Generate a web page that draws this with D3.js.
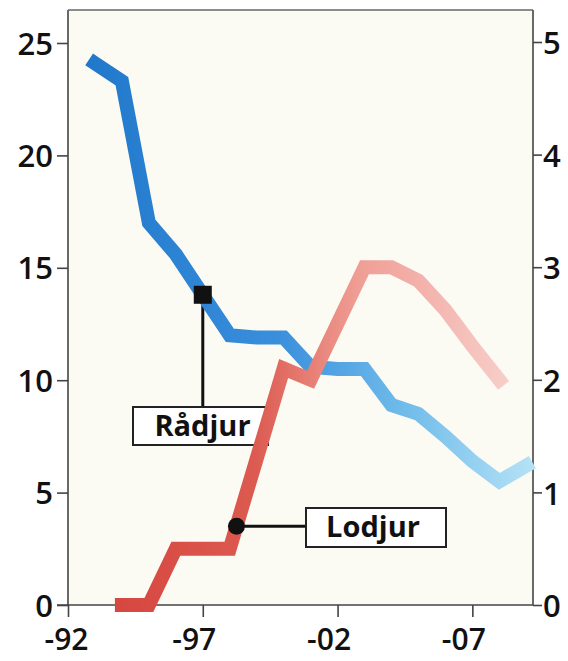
<!DOCTYPE html>
<html><head><meta charset="utf-8">
<script src="https://cdn.jsdelivr.net/npm/d3@7/dist/d3.min.js"></script>
<style>body{margin:0;background:#fff}svg{display:block}</style>
</head><body>
<script>
// ---- data ----
const radjurYears = [1993,1994,1995,1996,1997,1998,1999,2000,2001,2002,2003,2004,2005,2006,2007,2008,2009];
const radjurValues = [24.1,23.3,17.0,15.6,13.8,12.0,11.9,11.9,10.6,10.5,10.5,8.9,8.5,7.5,6.4,5.5,6.2];
const lodjurYears = [1994,1995,1996,1997,1998,1999,2000,2001,2002,2003,2004,2005,2006,2007,2008];
const lodjurValues = [0,0,0.5,0.5,0.5,1.3,2.1,2.0,2.5,3.0,3.0,2.88,2.62,2.3,2.0];
const leftTicks = [0,5,10,15,20,25];
const rightTicks = [0,1,2,3,4,5];
const xTicks = [1992,1997,2002,2007];
const xTickLabels = ["-92","-97","-02","-07"];
const seriesNames = ["Rådjur","Lodjur"];
const radjurMarker = {year:1997, value:13.8};
const lodjurMarker = {year:1998.25, value:0.7};

// ---- layout ----
const W = 568, H = 661;
const L = 68, R = 533, T = 10, B = 605;
const svg = d3.select("body").append("svg").attr("width", W).attr("height", H);

const x = d3.scaleLinear().domain([1992, 2009.25]).range([L, R]);
const yL = d3.scaleLinear().domain([0, 25]).range([B, 43]);
const yR = d3.scaleLinear().domain([0, 5]).range([B, 42]);

const defs = svg.append("defs");
const gb = defs.append("linearGradient").attr("id","gb").attr("gradientUnits","userSpaceOnUse")
  .attr("x1",L).attr("x2",R).attr("y1",0).attr("y2",0);
gb.append("stop").attr("offset","0%").attr("stop-color","#1e76c9");
gb.append("stop").attr("offset","45%").attr("stop-color","#3a8fdc");
gb.append("stop").attr("offset","72%").attr("stop-color","#6fbbea");
gb.append("stop").attr("offset","100%").attr("stop-color","#b5e2f6");
const gr = defs.append("linearGradient").attr("id","gr").attr("gradientUnits","userSpaceOnUse")
  .attr("x1",L).attr("x2",R).attr("y1",0).attr("y2",0);
gr.append("stop").attr("offset","0%").attr("stop-color","#d4403a");
gr.append("stop").attr("offset","40%").attr("stop-color","#dc5a50");
gr.append("stop").attr("offset","62%").attr("stop-color","#ef9d94");
gr.append("stop").attr("offset","100%").attr("stop-color","#f9d6d2");

// plot background
svg.append("rect").attr("x",L).attr("y",T).attr("width",R-L).attr("height",B-T).attr("fill","#fbfbf4");

const font = "'Open Sans', sans-serif";

// axes
const axL = svg.append("g").attr("transform",`translate(${L},0)`)
  .call(d3.axisLeft(yL).tickValues(leftTicks).tickSize(11).tickPadding(4).tickFormat(d3.format("d")));
const axR = svg.append("g").attr("transform",`translate(${R},0)`)
  .call(d3.axisRight(yR).tickValues(rightTicks).tickSize(9).tickPadding(1).tickFormat(d3.format("d")));
const axB = svg.append("g").attr("transform",`translate(0,${B})`)
  .call(d3.axisBottom(x).tickValues(xTicks).tickSize(12).tickPadding(11).tickFormat((d,i)=>xTickLabels[i]));
[axL, axR, axB].forEach(a=>{
  a.select(".domain").remove();
  a.selectAll(".tick line").attr("stroke","#444").attr("stroke-width",1.6);
  a.selectAll("text").attr("font-family",font).attr("font-weight",600).attr("font-size",31).attr("fill","#111");
});
axL.selectAll("text").attr("dy","0.36em");
axR.selectAll("text").attr("dy","0.38em");
axB.selectAll("text").attr("font-size",30).attr("dx",(d,i)=> i===0 ? -2 : -9).attr("dy","0.72em");

// frame lines
const frame = svg.append("g").attr("stroke","#444").attr("stroke-width",1.6).attr("fill","none");
frame.append("line").attr("x1",L).attr("x2",L).attr("y1",T).attr("y2",B);
frame.append("line").attr("x1",R).attr("x2",R).attr("y1",T).attr("y2",B);
frame.append("line").attr("x1",L).attr("x2",R).attr("y1",T).attr("y2",T).attr("stroke","#666");
frame.append("line").attr("x1",L-11).attr("x2",R).attr("y1",B).attr("y2",B);

// Rådjur label box (behind lines)
const rm = {x:x(radjurMarker.year), y:yL(radjurMarker.value)};
const lm = {x:x(lodjurMarker.year), y:yR(lodjurMarker.value)};
const rBox = {x:133, y:407, w:135, h:38};
const lBox = {x:306, y:508, w:140, h:39};

svg.append("line").attr("x1",rm.x).attr("x2",rm.x).attr("y1",rm.y).attr("y2",rBox.y)
  .attr("stroke","#111").attr("stroke-width",3);
svg.append("rect").attr("x",rBox.x).attr("y",rBox.y).attr("width",rBox.w).attr("height",rBox.h)
  .attr("fill","#fff").attr("stroke","#222").attr("stroke-width",2);
svg.append("text").attr("x",rBox.x+rBox.w/2+2).attr("y",rBox.y+29).attr("text-anchor","middle")
  .attr("font-family",font).attr("font-weight",700).attr("font-size",29).attr("fill","#111").text(seriesNames[0]);

// lines
const lineL = d3.line().x(d=>x(d[0])).y(d=>yL(d[1]));
const lineR = d3.line().x(d=>x(d[0])).y(d=>yR(d[1]));
svg.append("path").datum(d3.zip(radjurYears, radjurValues)).attr("d", lineL)
  .attr("fill","none").attr("stroke","url(#gb)").attr("stroke-width",14)
  .attr("stroke-linejoin","miter").attr("stroke-linecap","square");
svg.append("path").datum(d3.zip(lodjurYears, lodjurValues)).attr("d", lineR)
  .attr("fill","none").attr("stroke","url(#gr)").attr("stroke-width",14)
  .attr("stroke-linejoin","miter").attr("stroke-linecap","square");

// markers
svg.append("rect").attr("x",rm.x-9).attr("y",rm.y-9).attr("width",18).attr("height",18).attr("fill","#111");
svg.append("line").attr("x1",lm.x).attr("x2",lBox.x).attr("y1",lm.y).attr("y2",lm.y)
  .attr("stroke","#111").attr("stroke-width",3);
svg.append("circle").attr("cx",lm.x).attr("cy",lm.y).attr("r",8.5).attr("fill","#111");

// Lodjur label box
svg.append("rect").attr("x",lBox.x).attr("y",lBox.y).attr("width",lBox.w).attr("height",lBox.h)
  .attr("fill","#fff").attr("stroke","#222").attr("stroke-width",2);
svg.append("text").attr("x",lBox.x+lBox.w/2-3).attr("y",lBox.y+29).attr("text-anchor","middle")
  .attr("font-family",font).attr("font-weight",700).attr("font-size",29).attr("fill","#111").text(seriesNames[1]);
</script>
</body></html>
